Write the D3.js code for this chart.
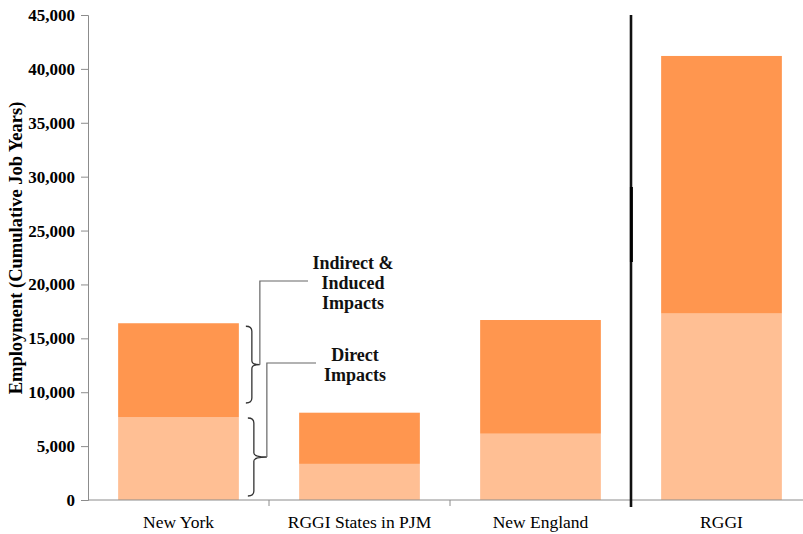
<!DOCTYPE html>
<html>
<head>
<meta charset="utf-8">
<title>RGGI Employment</title>
<script src="https://d3js.org/d3.v7.min.js"></script>
<style>
  body { margin: 0; background: #fff; }
  svg { display: block; }
  svg text { font-family: "Times New Roman", "Liberation Serif", "DejaVu Serif", serif !important; }
</style>
</head>
<body>
<svg width="803" height="534"></svg>
<script>
// values
var categories = ["New York", "RGGI States in PJM", "New England", "RGGI"];
var direct   = [7700, 3350, 6150, 17300];
var indirect = [8700, 4750, 10550, 23900];
var yTicks = [0, 5000, 10000, 15000, 20000, 25000, 30000, 35000, 40000, 45000];

var svg = d3.select("svg");

var y = d3.scaleLinear().domain([0, 45000]).range([500, 15]);
var x = d3.scaleBand().domain(categories)
    .range([88, 812]).paddingInner(0.333).paddingOuter(0.1665);

var colDirect = "#FFBF94", colIndirect = "#FF964F";

// bars
var g = svg.append("g");
categories.forEach(function(c, i) {
  g.append("rect")
    .attr("x", x(c)).attr("width", x.bandwidth())
    .attr("y", y(direct[i])).attr("height", y(0) - y(direct[i]))
    .attr("fill", colDirect);
  g.append("rect")
    .attr("x", x(c)).attr("width", x.bandwidth())
    .attr("y", y(direct[i] + indirect[i]))
    .attr("height", y(direct[i]) - y(direct[i] + indirect[i]))
    .attr("fill", colIndirect);
});

// y axis
var yAxis = svg.append("g")
    .attr("transform", "translate(88,0)")
    .call(d3.axisLeft(y).tickValues(yTicks).tickSize(7).tickPadding(6)
      .tickFormat(d3.format(",")));
yAxis.attr("font-family", null);
yAxis.select(".domain").attr("stroke", "#8c8c8c");
yAxis.selectAll(".tick line").attr("stroke", "#8c8c8c");
yAxis.selectAll(".tick text")
    .attr("font-size", 17).attr("font-weight", "bold").attr("fill", "#000");

svg.append("text")
    .attr("transform", "translate(22,248) rotate(-90)")
    .attr("text-anchor", "middle")
    .attr("font-size", 18.5).attr("font-weight", "bold")
    .text("Employment (Cumulative Job Years)");

// x axis
svg.append("line")
    .attr("x1", 88).attr("x2", 803).attr("y1", y(0)).attr("y2", y(0))
    .attr("stroke", "#8c8c8c");
var step = x.step();
categories.slice(1).forEach(function(c) {
  var bx = x(c) - step * x.paddingInner() / 2;
  svg.append("line")
    .attr("x1", bx).attr("x2", bx).attr("y1", y(0)).attr("y2", y(0) + 6)
    .attr("stroke", "#8c8c8c");
});
categories.forEach(function(c) {
  svg.append("text")
    .attr("x", x(c) + x.bandwidth() / 2).attr("y", 528)
    .attr("text-anchor", "middle")
    .attr("font-size", 17.5).attr("fill", "#000")
    .text(c);
});

// separator before RGGI
var sx = x("RGGI") - step * x.paddingInner() / 2;
svg.append("line")
    .attr("x1", sx).attr("x2", sx).attr("y1", 15).attr("y2", 507)
    .attr("stroke", "#111").attr("stroke-width", 2.6);
svg.append("line")
    .attr("x1", sx + 0.4).attr("x2", sx + 0.4).attr("y1", 187).attr("y2", 262)
    .attr("stroke", "#000").attr("stroke-width", 3);

// bracket annotations on New York bar
function brace(top, bot, bx, tip) {
  var mid = (top + bot) / 2;
  var p = d3.path();
  p.moveTo(bx - 6, top);
  p.quadraticCurveTo(bx, top, bx, top + 5);
  p.lineTo(bx, mid - 4);
  p.quadraticCurveTo(bx, mid, tip, mid);
  p.quadraticCurveTo(bx, mid, bx, mid + 4);
  p.lineTo(bx, bot - 5);
  p.quadraticCurveTo(bx, bot, bx - 6, bot);
  return p.toString();
}
var nyRight = x("New York") + x.bandwidth();
var nyTot = direct[0] + indirect[0];

var tip1 = nyRight + 21, tip2 = nyRight + 28;
svg.append("path")
    .attr("d", brace(y(nyTot) + 3, y(direct[0]) - 14, nyRight + 13, tip1))
    .attr("fill", "none").attr("stroke", "#333").attr("stroke-width", 1.3);
svg.append("path")
    .attr("d", brace(y(direct[0]) + 1, y(0) - 4, nyRight + 15, tip2))
    .attr("fill", "none").attr("stroke", "#333").attr("stroke-width", 1.3);

var mid1 = (y(nyTot) + 3 + y(direct[0]) - 14) / 2;
var mid2 = (y(direct[0]) + 1 + y(0) - 4) / 2;
svg.append("path")
    .attr("d", "M" + tip1 + "," + mid1 + "V281H308")
    .attr("fill", "none").attr("stroke", "#666").attr("stroke-width", 1.2);
svg.append("path")
    .attr("d", "M" + tip2 + "," + mid2 + "V363H316")
    .attr("fill", "none").attr("stroke", "#666").attr("stroke-width", 1.2);

var note1 = ["Indirect &", "Induced", "Impacts"];
note1.forEach(function(t, i) {
  svg.append("text")
    .attr("x", 353).attr("y", 269 + i * 20)
    .attr("text-anchor", "middle").attr("font-size", 18).attr("font-weight", "bold")
    .attr("fill", "#111")
    .text(t);
});
var note2 = ["Direct", "Impacts"];
note2.forEach(function(t, i) {
  svg.append("text")
    .attr("x", 355).attr("y", 361 + i * 20)
    .attr("text-anchor", "middle").attr("font-size", 18).attr("font-weight", "bold")
    .attr("fill", "#111")
    .text(t);
});
</script>
</body>
</html>
